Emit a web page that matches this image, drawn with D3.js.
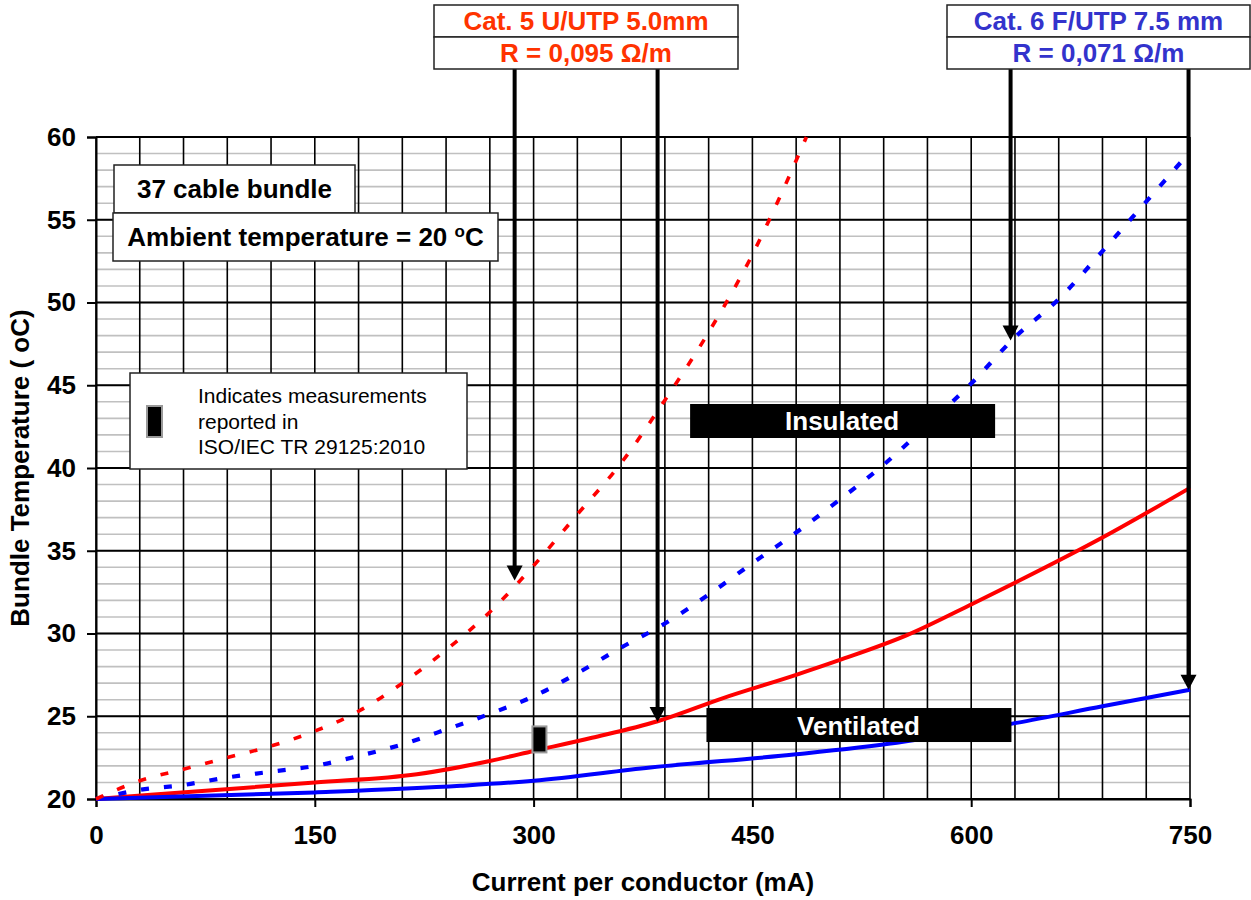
<!DOCTYPE html>
<html>
<head>
<meta charset="utf-8">
<script src="https://cdn.jsdelivr.net/npm/d3@7"></script>
<style>
  body { margin: 0; background: #fff; }
  svg { font-family: "Liberation Sans", Arial, sans-serif; }
</style>
</head>
<body>
<div id="chart-container"></div>
<script>
// ---- data ----
// Cat. 5 U/UTP, insulated (red dashed)
const cat5InsCurrent = [0, 30, 60, 90, 120, 150, 180, 210, 240, 270, 300, 330, 360, 390, 420, 450, 470, 487];
const cat5InsTemp = [20, 21.1, 21.8, 22.5, 23.2, 24.1, 25.3, 27.0, 29.0, 31.3, 34.1, 37.2, 40.3, 44.1, 48.2, 52.9, 56.6, 60];
// Cat. 6 F/UTP, insulated (blue dashed)
const cat6InsCurrent = [0, 30, 60, 90, 120, 150, 180, 210, 240, 270, 300, 330, 360, 390, 420, 450, 480, 510, 540, 570, 600, 630, 660, 690, 720, 750];
const cat6InsTemp = [20, 20.55, 20.85, 21.3, 21.65, 22.0, 22.6, 23.3, 24.2, 25.15, 26.2, 27.6, 29.15, 30.6, 32.35, 34.25, 36.1, 38.1, 40.2, 42.6, 45.1, 47.9, 50.2, 53.1, 56.1, 59.1];
// Cat. 5 U/UTP, ventilated (red solid)
const cat5VentCurrent = [0, 75, 150, 220, 270, 300, 340, 385, 430, 480, 510, 556, 601, 633, 690, 750];
const cat5VentTemp = [20, 20.5, 21.0, 21.5, 22.3, 22.9, 23.7, 24.7, 26.1, 27.5, 28.4, 29.9, 31.8, 33.2, 35.8, 38.8];
// Cat. 6 F/UTP, ventilated (blue solid)
const cat6VentCurrent = [0, 150, 250, 300, 380, 480, 549, 631, 690, 750];
const cat6VentTemp = [20, 20.4, 20.8, 21.1, 21.9, 22.7, 23.4, 24.6, 25.6, 26.6];

// measurement reported in ISO/IEC TR 29125:2010
const measurement = [{ current: 304, temp: 23.6 }];

// axis ticks
const xTicks = [0, 150, 300, 450, 600, 750];
const yTicks = [20, 25, 30, 35, 40, 45, 50, 55, 60];
const xGridStep = 30;
const yMinorStep = 1;

// arrow targets for the cable labels
const cat5Arrows = [{ current: 287, temp: 33.2 }, { current: 385, temp: 24.65 }];
const cat6Arrows = [{ current: 627, temp: 47.7 }, { current: 749, temp: 26.6 }];

// ---- canvas ----
const w = 1251;
const h = 900;
const plotLeft = 96, plotRight = 1190, plotTop = 137, plotBottom = 799;

const svg = d3.select("#chart-container").append("svg")
  .attr("width", w).attr("height", h);

const x = d3.scaleLinear().domain([0, 750]).range([plotLeft, plotRight]);
const y = d3.scaleLinear().domain([20, 60]).range([plotBottom, plotTop]);

// minor horizontal grid (gray)
svg.append("g")
  .selectAll("line")
  .data(d3.range(20, 60.01, yMinorStep))
  .enter().append("line")
  .attr("x1", plotLeft).attr("x2", plotRight)
  .attr("y1", d => y(d)).attr("y2", d => y(d))
  .attr("stroke", "#c0c0c0").attr("stroke-width", 1.6);

// vertical grid (black)
svg.append("g")
  .selectAll("line")
  .data(d3.range(0, 750.01, xGridStep))
  .enter().append("line")
  .attr("x1", d => x(d)).attr("x2", d => x(d))
  .attr("y1", plotTop).attr("y2", plotBottom)
  .attr("stroke", "#000").attr("stroke-width", 1.6);

// major horizontal grid (black)
svg.append("g")
  .selectAll("line")
  .data(yTicks)
  .enter().append("line")
  .attr("x1", plotLeft).attr("x2", plotRight)
  .attr("y1", d => y(d)).attr("y2", d => y(d))
  .attr("stroke", "#000").attr("stroke-width", 2);

// axes
const yAxis = d3.axisLeft(y).tickValues(yTicks).tickSize(9).tickPadding(11).tickFormat(d3.format("d"));
const xAxis = d3.axisBottom(x).tickValues(xTicks).tickSize(8).tickPadding(19).tickFormat(d3.format("d"));

const gy = svg.append("g").attr("transform", "translate(" + plotLeft + ",0)").call(yAxis);
const gx = svg.append("g").attr("transform", "translate(0," + plotBottom + ")").call(xAxis);

[gy, gx].forEach(g => {
  g.select(".domain").attr("stroke", "#000").attr("stroke-width", 2);
  g.selectAll(".tick line").attr("stroke", "#000").attr("stroke-width", 2);
  g.selectAll(".tick text")
    .attr("fill", "#000")
    .style("font-size", "26px")
    .style("font-weight", "bold")
    .style("font-family", "Liberation Sans, Arial, sans-serif");
});

// axis titles
svg.append("text")
  .attr("x", (plotLeft + plotRight) / 2).attr("y", 891)
  .attr("text-anchor", "middle")
  .style("font-size", "26px").style("font-weight", "bold")
  .text("Current per conductor (mA)");

svg.append("text")
  .attr("transform", "translate(29," + (plotTop + plotBottom) / 2 + ") rotate(-90)")
  .attr("text-anchor", "middle")
  .style("font-size", "26px").style("font-weight", "bold")
  .text("Bundle Temperature ( oC)");

// curves
const line = d3.line()
  .x(d => x(d[0]))
  .y(d => y(d[1]))
  .curve(d3.curveMonotoneX);

const series = [
  { cur: cat5VentCurrent, temp: cat5VentTemp, color: "#ff0000", width: 4, dash: null },
  { cur: cat6VentCurrent, temp: cat6VentTemp, color: "#0000ff", width: 4, dash: null },
  { cur: cat6InsCurrent, temp: cat6InsTemp, color: "#0000ff", width: 4.2, dash: "8,15" },
  { cur: cat5InsCurrent, temp: cat5InsTemp, color: "#ff0000", width: 3.6, dash: "8,15" },
];

svg.append("g")
  .selectAll("path")
  .data(series)
  .enter().append("path")
  .attr("d", s => line(s.cur.map((c, i) => [c, s.temp[i]])))
  .attr("fill", "none")
  .attr("stroke", s => s.color)
  .attr("stroke-width", s => s.width)
  .attr("stroke-dasharray", s => s.dash);

// measurement marker
svg.selectAll("rect.measure")
  .data(measurement)
  .enter().append("rect")
  .attr("class", "measure")
  .attr("x", d => x(d.current) - 7)
  .attr("y", d => y(d.temp) - 13)
  .attr("width", 14).attr("height", 26)
  .attr("fill", "#000").attr("stroke", "#999").attr("stroke-width", 2);

// Insulated / Ventilated labels
const bandLabels = [
  { text: "Insulated", current: 511.5, temp: 42.84 },
  { text: "Ventilated", current: 522.7, temp: 24.47 },
];
const bands = svg.append("g").selectAll("g").data(bandLabels).enter().append("g")
  .attr("transform", d => "translate(" + x(d.current) + "," + y(d.temp) + ")");
bands.append("rect")
  .attr("x", -152).attr("y", -17).attr("width", 305).attr("height", 34)
  .attr("fill", "#000");
bands.append("text")
  .attr("text-anchor", "middle").attr("y", 9.5)
  .attr("fill", "#fff")
  .style("font-size", "26px").style("font-weight", "bold")
  .text(d => d.text);

// cable header boxes with arrows
function headerBox(bx, bw, color, line1, line2, arrows) {
  const g = svg.append("g");
  arrows.forEach(a => {
    const ax = x(a.current);
    const ay = y(a.temp);
    g.append("line")
      .attr("x1", ax).attr("x2", ax).attr("y1", 69).attr("y2", ay - 12)
      .attr("stroke", "#000").attr("stroke-width", 4);
    g.append("path")
      .attr("d", "M" + (ax - 8) + "," + (ay - 15) + "L" + (ax + 8) + "," + (ay - 15) + "L" + ax + "," + ay + "Z")
      .attr("fill", "#000");
  });
  [[5, line1], [37, line2]].forEach(([ty, t]) => {
    g.append("rect")
      .attr("x", bx).attr("y", ty).attr("width", bw).attr("height", 32)
      .attr("fill", "#fff").attr("stroke", "#222").attr("stroke-width", 1.5);
    g.append("text")
      .attr("x", bx + bw / 2).attr("y", ty + 25)
      .attr("text-anchor", "middle")
      .attr("fill", color)
      .style("font-size", "26px").style("font-weight", "bold")
      .text(t);
  });
}
headerBox(434, 304, "#ff3300", "Cat. 5 U/UTP 5.0mm", "R = 0,095 \u03A9/m", cat5Arrows);
headerBox(947, 303, "#3333cc", "Cat. 6 F/UTP 7.5 mm", "R = 0,071 \u03A9/m", cat6Arrows);

// bundle info boxes
svg.append("rect").attr("x", 114).attr("y", 165).attr("width", 241).attr("height", 48)
  .attr("fill", "#fff").attr("stroke", "#222").attr("stroke-width", 1.5);
svg.append("text").attr("x", 234.5).attr("y", 198).attr("text-anchor", "middle")
  .style("font-size", "26px").style("font-weight", "bold").text("37 cable bundle");

svg.append("rect").attr("x", 113).attr("y", 213).attr("width", 385).attr("height", 48)
  .attr("fill", "#fff").attr("stroke", "#222").attr("stroke-width", 1.5);
const amb = svg.append("text").attr("x", 305.5).attr("y", 246).attr("text-anchor", "middle")
  .style("font-size", "26px").style("font-weight", "bold");
amb.append("tspan").text("Ambient temperature = 20 ");
amb.append("tspan").attr("dy", -9).style("font-size", "17px").text("o");
amb.append("tspan").attr("dy", 9).text("C");

// legend box
svg.append("rect").attr("x", 130).attr("y", 373).attr("width", 337).attr("height", 96)
  .attr("fill", "#fff").attr("stroke", "#222").attr("stroke-width", 1.5);
svg.append("rect").attr("x", 147).attr("y", 406).attr("width", 15).attr("height", 31)
  .attr("fill", "#000").attr("stroke", "#999").attr("stroke-width", 2);
const legendLines = ["Indicates measurements", "reported in", "ISO/IEC TR 29125:2010"];
svg.append("g").selectAll("text").data(legendLines).enter().append("text")
  .attr("x", 198).attr("y", (d, i) => 403 + i * 25.5)
  .style("font-size", "21px")
  .text(d => d);
</script>
</body>
</html>
